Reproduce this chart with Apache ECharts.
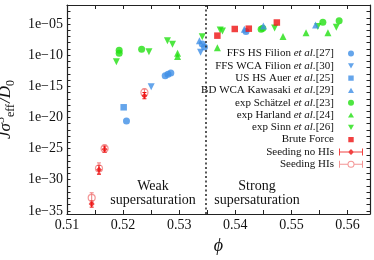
<!DOCTYPE html>
<html>
<head>
<meta charset="utf-8">
<script src="https://cdn.jsdelivr.net/npm/echarts@6/dist/echarts.min.js"></script>
<style>
html,body{margin:0;padding:0;background:#fff;}
#c{width:374px;height:260px;}
</style>
</head>
<body>
<div id="c"></div>
<script>
// values are [phi, log10(J sigma^5 / D0)]
const ffsHsFilion = [[0.5206,-20.56],[0.5275,-13.3],[0.528,-13.05],[0.5285,-12.85],[0.5341,-8.2],[0.5345,-8.7],[0.5419,-6.2]];
const ffsWcaFilion = [[0.525,-15.06],[0.5338,-9.55]];
const usHsAuer = [[0.5201,-18.37]];
const bdWcaKawasaki = [[0.5336,-7.7],[0.5416,-5.85],[0.545,-5.32],[0.5543,-5.16]];
const expSchaetzel = [[0.5193,-9.2],[0.5193,-9.7],[0.5233,-9.06],[0.5446,-5.85],[0.5449,-5.7],[0.5556,-4.7],[0.5585,-4.47]];
const expHarland = [[0.5297,-9.7],[0.5297,-10.2],[0.5368,-8.8],[0.5485,-7.0],[0.5526,-6.4],[0.5565,-6.39]];
const expSinn = [[0.5188,-11.05],[0.5246,-9.44],[0.5279,-7.67],[0.5288,-8.26],[0.5341,-7.03],[0.5373,-5.96],[0.5377,-6.12],[0.547,-5.65],[0.5547,-5.42],[0.558,-5.53]];
const bruteForce = [[0.5368,-6.87],[0.5399,-5.8],[0.5424,-5.75],[0.5474,-4.76]];
const seedingNoHIs = [[0.5144,-33.9],[0.5157,-28.4],[0.5167,-25.1],[0.5238,-16.5]];
const seedingNoHIsErr = [0.5,0.7,0.5,0.5];
const seedingHIs = [[0.5144,-32.9],[0.5157,-28.2],[0.5167,-25.0],[0.5238,-16.0]];
const seedingHIsErr = [0.8,0.9,0.6,0.6];
const boundaryPhi = 0.5348;

const phiTicks = [0.51,0.515,0.52,0.525,0.53,0.535,0.54,0.545,0.55,0.555,0.56];
const phiLabels = [0.51,0.52,0.53,0.54,0.55,0.56];
const logJLabels = [-35,-30,-25,-20,-15,-10,-5];
const logJTicks = [];
for (let e = -35; e <= -2; e++) logJTicks.push(e);

const BLUE = '#3f8fe6', GREEN = '#22e011', RED = '#ee1111', PINK = '#f07a7a';
const SERIF = '"Liberation Serif","DejaVu Serif",serif';
const TXT = '#111';

const corner = 'M0,0h0.01v0.01h-0.01z M23.99,9.99h0.01v0.01h-0.01z ';
const icons = {
  circle: 'path://' + corner + 'M9,5A3,3 0 1,1 15,5A3,3 0 1,1 9,5Z',
  down: 'path://' + corner + 'M9,2.4L15,2.4L12,7.6Z',
  up: 'path://' + corner + 'M9,7.6L15,7.6L12,2.4Z',
  square: 'path://' + corner + 'M9.3,2.3h5.4v5.4h-5.4z',
  errDiamond: 'path://' + corner + 'M0,4.5h24v1h-24z M0,1.5h1v7h-1z M23,1.5h1v7h-1z M12,2L15,5L12,8L9,5Z',
  errCircle: 'path://' + corner + 'M0,4.5h8.6v1h-8.6z M15.4,4.5h8.6v1h-8.6z M0,1.5h1v7h-1z M23,1.5h1v7h-1z M8.5,5A3.5,3.5 0 1,1 15.5,5A3.5,3.5 0 1,1 8.5,5Z M9.5,5A2.5,2.5 0 1,0 14.5,5A2.5,2.5 0 1,0 9.5,5Z'
};

const N_FFS_HS = 'FFS HS Filion et al.[27]';
const N_FFS_WCA = 'FFS WCA Filion et al.[30]';
const N_US = 'US HS Auer et al.[25]';
const N_BD = 'BD WCA Kawasaki et al.[29]';
const N_SCH = 'exp Schätzel et al.[23]';
const N_HAR = 'exp Harland et al.[24]';
const N_SINN = 'exp Sinn et al.[26]';
const N_BF = 'Brute Force';
const N_SNO = 'Seeding no HIs';
const N_SHI = 'Seeding HIs';

function scatter(name, data, symbol, color, size, rotate, z) {
  return {
    name: name, type: 'scatter', data: data, symbol: symbol, symbolSize: size,
    symbolRotate: rotate || 0, itemStyle: { color: color }, z: z || 3, silent: true
  };
}
function errBars(data, errs, color, name) {
  return {
    type: 'custom', name: name, silent: true, z: 2,
    data: data.map((d, i) => [d[0], d[1] - errs[i], d[1] + errs[i]]),
    encode: { x: 0, y: [1, 2] },
    renderItem: function (params, api) {
      const x = api.value(0);
      const p1 = api.coord([x, api.value(1)]);
      const p2 = api.coord([x, api.value(2)]);
      const st = { stroke: color, lineWidth: 1 };
      return { type: 'group', children: [
        { type: 'line', shape: { x1: p1[0], y1: p1[1], x2: p2[0], y2: p2[1] }, style: st },
        { type: 'line', shape: { x1: p1[0]-2, y1: p1[1], x2: p1[0]+2, y2: p1[1] }, style: st },
        { type: 'line', shape: { x1: p2[0]-2, y1: p2[1], x2: p2[0]+2, y2: p2[1] }, style: st }
      ]};
    }
  };
}

function yLabel(v) {
  const a = Math.abs(Math.round(v));
  return '1e' + (v < 0 ? '\u2212' : '') + (a < 10 ? '0' + a : '' + a);
}

const axisLineStyle = { color: '#222', width: 1.2 };
const baseX = { type: 'value', min: 0.51, max: 0.564, splitLine: { show: false },
  axisLine: { show: true, lineStyle: axisLineStyle },
  axisTick: { show: true, inside: true, length: 4, customValues: phiTicks, lineStyle: { color: '#222', width: 1 } } };
const baseY = { type: 'value', min: -35.5, max: -1.95, splitLine: { show: false },
  axisLine: { show: true, lineStyle: axisLineStyle },
  axisTick: { show: true, inside: true, length: 3.5, customValues: logJTicks, lineStyle: { color: '#222', width: 1 } } };

const chart = echarts.init(document.getElementById('c'), null, { renderer: 'canvas' });
chart.setOption({
  animation: false,
  backgroundColor: '#fff',
  grid: { left: 67, right: 4, top: 5, bottom: 46, containLabel: false, outerBoundsMode: 'none' },
  xAxis: [
    Object.assign({}, baseX, { position: 'bottom',
      axisLabel: { customValues: phiLabels, formatter: v => v.toFixed(2), fontFamily: SERIF, fontSize: 14, color: TXT, margin: 4 },
      name: '\u03d5', nameLocation: 'middle', nameGap: 21,
      nameTextStyle: { fontFamily: SERIF, fontStyle: 'italic', fontSize: 18, color: TXT } }),
    Object.assign({}, baseX, { position: 'top', axisLabel: { show: false } })
  ],
  yAxis: [
    Object.assign({}, baseY, { position: 'left',
      axisLabel: { customValues: logJLabels, formatter: yLabel, fontFamily: SERIF, fontSize: 14, color: TXT, margin: 4 },
      name: '{i|J\u03c3}{sup|5}{sub|eff}{n| }{i|/D}{sub|0}', nameLocation: 'middle', nameGap: 44, nameRotate: 90,
      nameTextStyle: { fontFamily: SERIF, fontSize: 16, color: TXT,
        rich: {
          i: { fontFamily: SERIF, fontStyle: 'italic', fontSize: 17, color: TXT, lineHeight: 22, verticalAlign: 'middle' },
          n: { fontFamily: SERIF, fontSize: 4, color: TXT, lineHeight: 22 },
          sup: { fontFamily: SERIF, fontSize: 12, color: TXT, lineHeight: 22, verticalAlign: 'top' },
          sub: { fontFamily: SERIF, fontSize: 12, color: TXT, lineHeight: 22, verticalAlign: 'bottom' }
        } } }),
    Object.assign({}, baseY, { position: 'right', axisLabel: { show: false } })
  ],
  legend: {
    orient: 'vertical', right: 6, top: 43, align: 'right', selectedMode: false,
    itemWidth: 24, itemHeight: 10, itemGap: 1.3,
    formatter: function (name) {
      const parts = name.split('et al.');
      if (parts.length === 2) return '{n|' + parts[0] + '}{i|et al.}{n|' + parts[1] + '}';
      return '{n|' + name + '}';
    },
    textStyle: { fontFamily: SERIF, fontSize: 11, color: TXT,
      rich: {
        n: { fontFamily: SERIF, fontSize: 11, color: TXT, lineHeight: 12 },
        i: { fontFamily: SERIF, fontSize: 11, fontStyle: 'italic', color: TXT, lineHeight: 12 }
      } },
    data: [
      { name: N_FFS_HS, icon: icons.circle, itemStyle: { color: BLUE, borderWidth: 0 } },
      { name: N_FFS_WCA, icon: icons.down, itemStyle: { color: BLUE, borderWidth: 0 } },
      { name: N_US, icon: icons.square, itemStyle: { color: BLUE, borderWidth: 0 } },
      { name: N_BD, icon: icons.up, itemStyle: { color: BLUE, borderWidth: 0 } },
      { name: N_SCH, icon: icons.circle, itemStyle: { color: GREEN, borderWidth: 0 } },
      { name: N_HAR, icon: icons.up, itemStyle: { color: GREEN, borderWidth: 0 } },
      { name: N_SINN, icon: icons.down, itemStyle: { color: GREEN, borderWidth: 0 } },
      { name: N_BF, icon: icons.square, itemStyle: { color: RED, borderWidth: 0 } },
      { name: N_SNO, icon: icons.errDiamond, itemStyle: { color: RED, borderWidth: 0 } },
      { name: N_SHI, icon: icons.errCircle, itemStyle: { color: PINK, borderWidth: 0 } }
    ]
  },
  graphic: [
    { type: 'text', z: 10, style: { text: 'Weak\nsupersaturation', x: 153, y: 179, align: 'center', verticalAlign: 'top',
        font: '14px ' + SERIF, lineHeight: 14, fill: TXT } },
    { type: 'text', z: 10, style: { text: 'Strong\nsupersaturation', x: 257, y: 179, align: 'center', verticalAlign: 'top',
        font: '14px ' + SERIF, lineHeight: 14, fill: TXT } }
  ],
  series: [
    errBars(seedingHIs, seedingHIsErr, PINK, 'errHI'),
    errBars(seedingNoHIs, seedingNoHIsErr, RED, 'errNoHI'),
    scatter(N_SCH, expSchaetzel, 'circle', GREEN, 7),
    scatter(N_HAR, expHarland, 'triangle', GREEN, 7),
    scatter(N_SINN, expSinn, 'triangle', GREEN, 7, 180),
    scatter(N_FFS_HS, ffsHsFilion, 'circle', BLUE, 7),
    scatter(N_FFS_WCA, ffsWcaFilion, 'triangle', BLUE, 7, 180),
    scatter(N_US, usHsAuer, 'rect', BLUE, 6.5),
    scatter(N_BD, bdWcaKawasaki, 'triangle', BLUE, 7),
    Object.assign(scatter(N_BF, bruteForce, 'rect', RED, 6.5, 0, 4), {
      markLine: { silent: true, symbol: 'none', precision: 5, label: { show: false },
        lineStyle: { type: [2, 2.5], color: '#222', width: 1.5 },
        data: [{ xAxis: boundaryPhi }] }
    }),
    { name: N_SHI, type: 'scatter', data: seedingHIs, symbol: 'circle', symbolSize: 7, silent: true, z: 4,
      itemStyle: { color: 'rgba(0,0,0,0)', borderColor: PINK, borderWidth: 1.2 } },
    scatter(N_SNO, seedingNoHIs, 'diamond', RED, 6, 0, 5)
  ]
});
</script>
</body>
</html>
